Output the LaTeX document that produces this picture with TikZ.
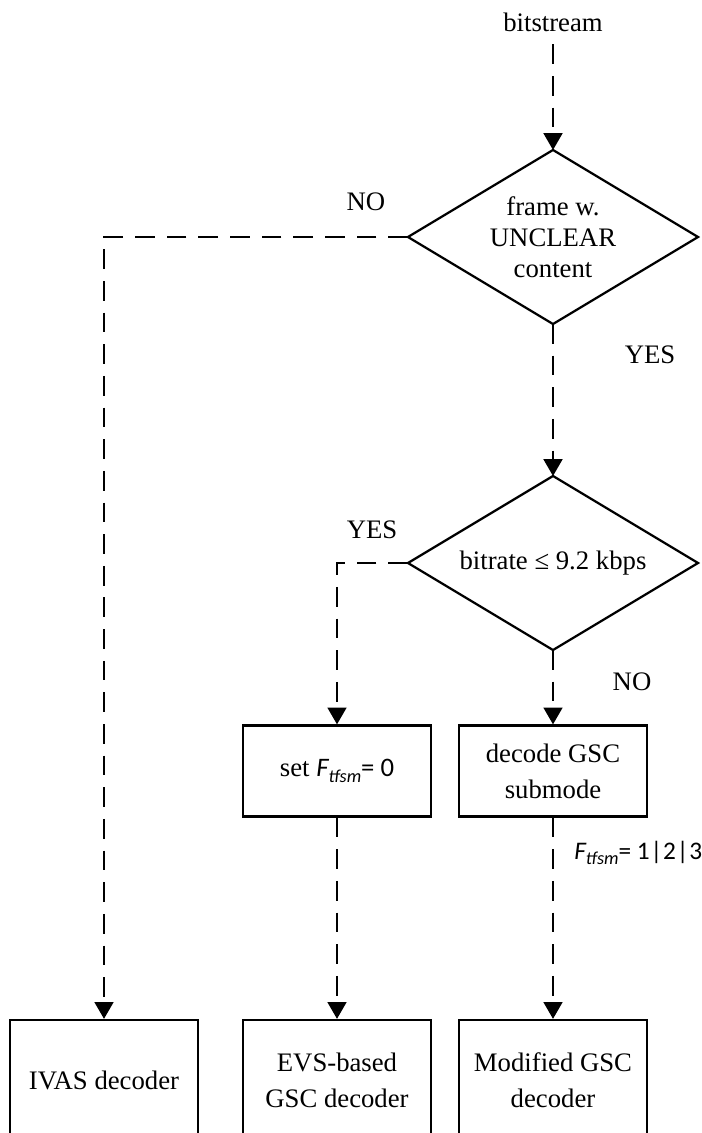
\documentclass[tikz,border=0pt]{standalone}
\usepackage{fontspec}
\setmainfont{Liberation Serif}
\newfontfamily\calfont{Carlito}
\usetikzlibrary{arrows.meta,shapes.geometric}
\newcommand{\Ftf}{{\calfont\itshape F\raisebox{-0.45ex}{\fontsize{13}{13}\selectfont tfsm}}}

\begin{document}
\begin{tikzpicture}[x=0.025cm,y=-0.025cm,>={Triangle[width=0.47cm,length=0.42cm]},
  font=\fontsize{19}{25.5}\selectfont,
  flow/.style={->,line width=1.6pt,dash pattern=on 14pt off 8.5pt},
  box/.style={draw,line width=1.6pt,minimum width=4.7cm,align=center,inner sep=0pt},
  test/.style={draw,diamond,line width=1.6pt,minimum width=7.25cm,minimum height=4.35cm,
    aspect=1.667,align=center,inner sep=0pt,outer sep=0pt}]
  \useasboundingbox (0,0) rectangle (702,1133);
  \clip (0,0) rectangle (702,1133);
  % decisions
  \node (bits) at (553,22) {bitstream};
  \node[test,font=\fontsize{19}{22}\selectfont] (unclear) at (553,237) {frame w.\\UNCLEAR\\content};
  \node[test] (rate) at (553,563) {bitrate ≤ 9.2 kbps};
  % blocks
  \node[box,minimum height=2.275cm] (setf) at (337,771) {set \Ftf{\calfont= 0}};
  \node[box,minimum height=2.275cm] (submode) at (553,771) {decode GSC\\submode};
  \node[box,minimum height=3cm] (ivas) at (104,1080) {IVAS decoder};
  \node[box,minimum height=3cm] (evs) at (337,1080) {EVS-based\\GSC decoder};
  \node[box,minimum height=3cm] (modgsc) at (553,1080) {Modified GSC\\decoder};
  % labels
  \node (no1) at (366,202) {NO};
  \node (yes1) at (650,355) {YES};
  \node (yes2) at (372,530) {YES};
  \node (no2) at (632,682) {NO};
  \node[anchor=west,inner sep=0pt,font=\fontsize{18}{22}\selectfont] (fval) at (574,853)
    {\Ftf{\calfont= 1\kern0.6pt|\kern0.6pt2\kern0.6pt|\kern0.6pt3}};
  % connections
  \draw[flow,shorten <=0.2cm] (bits.south) -- (unclear.north);
  \draw[flow] (unclear.west) -| (ivas.north);
  \draw[flow] (unclear.south) -- (rate.north);
  \draw[flow] (rate.west) -| (setf.north);
  \draw[flow] (rate.south) -- (submode.north);
  \draw[flow] (setf.south) -- (evs.north);
  \draw[flow] (submode.south) -- (modgsc.north);
\end{tikzpicture}
\end{document}
